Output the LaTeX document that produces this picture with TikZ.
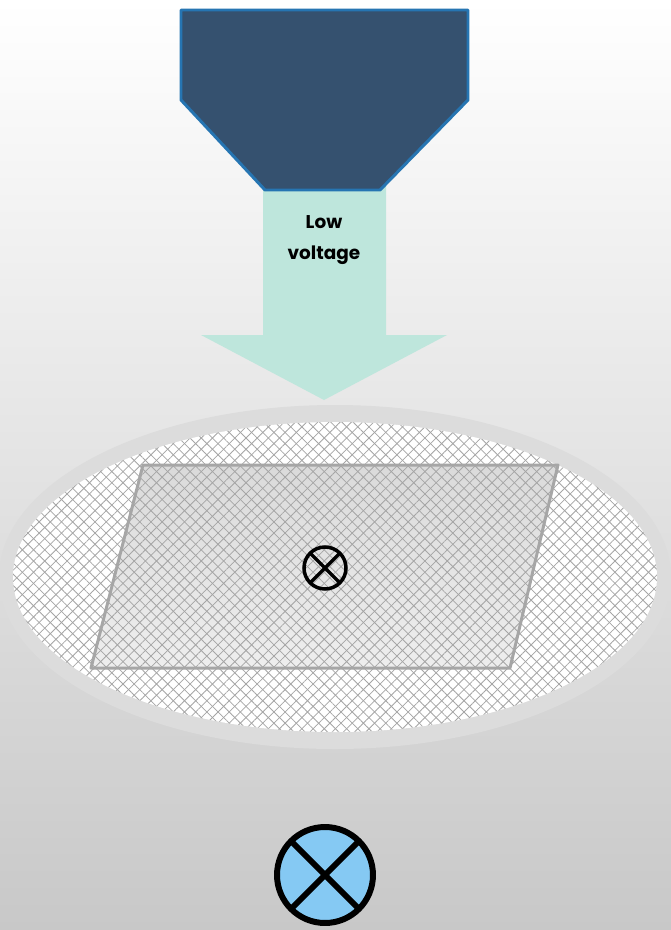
\documentclass[tikz,border=0pt]{standalone}
\usepackage{fontspec}
\newfontfamily\labelfont{Poppins}
\usepackage{xcolor}
\usetikzlibrary{shapes,arrows,positioning,patterns.meta}

\definecolor{nozzleblue}{RGB}{53,81,111}
\definecolor{nozzleedge}{RGB}{38,117,178}
\definecolor{beammint}{RGB}{190,230,220}
\definecolor{ringgray}{RGB}{220,220,220}
\definecolor{hatchgray}{RGB}{165,165,165}
\definecolor{platetop}{RGB}{218,218,218}
\definecolor{platebot}{RGB}{238,238,238}
\definecolor{plateedge}{RGB}{166,166,166}
\definecolor{markblue}{RGB}{133,201,243}
\definecolor{bgbottom}{RGB}{200,200,200}

\tikzset{
  hatchup/.style={pattern={Lines[angle=45,distance=4.5pt,line width=0.45pt]},pattern color=hatchgray},
  hatchdown/.style={pattern={Lines[angle=-45,distance=4.5pt,line width=0.45pt]},pattern color=hatchgray},
  crossmark/.style={circle,draw=black,inner sep=0pt,outer sep=0pt}
}

\begin{document}
\begin{tikzpicture}[x=0.02cm,y=-0.02cm]
% Background
\shade[top color=white,bottom color=bgbottom] (0,0) rectangle (671,930);
\useasboundingbox (0,0) rectangle (671,930);

% Sample holder
\fill[ringgray] (335,577) ellipse (336 and 172);
\fill[white] (335,577) ellipse (322 and 155);
\shade[top color=platetop,bottom color=platebot] (143,465) -- (558,465) -- (510,668) -- (91,668) -- cycle;
\fill[hatchup] (335,577) ellipse (322 and 155);
\fill[hatchdown] (335,577) ellipse (322 and 155);
\draw[plateedge,line width=1.7pt,line join=round] (143,465) -- (558,465) -- (510,668) -- (91,668) -- cycle;

% Beam
\fill[beammint] (263,185) -- (386,185) -- (386,335) -- (447,335) -- (324,400)
  -- (201,335) -- (263,335) -- cycle;
\node[font=\labelfont\bfseries\fontsize{10.5}{18}\selectfont,align=center] (lbl) at (324,240) {Low\\voltage};

% Nozzle
\filldraw[fill=nozzleblue,draw=nozzleedge,line width=1.7pt,line join=round]
  (181,10) -- (468,10) -- (468,100) -- (380,190) -- (265,190) -- (181,100) -- cycle;

% Field direction marks
\node[crossmark,line width=2pt,minimum size=0.84cm] (mark) at (325,568) {};
\draw[line width=2pt] (mark.north west) -- (mark.south east);
\draw[line width=2pt] (mark.north east) -- (mark.south west);

\node[crossmark,fill=markblue,line width=3.4pt,minimum size=1.92cm] (bigmark) at (325,875) {};
\draw[line width=3.4pt] (bigmark.north west) -- (bigmark.south east);
\draw[line width=3.4pt] (bigmark.north east) -- (bigmark.south west);

\end{tikzpicture}
\end{document}
